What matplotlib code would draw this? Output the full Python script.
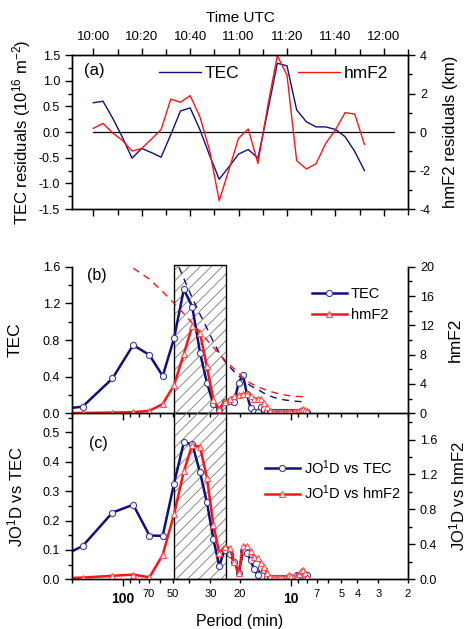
import matplotlib
matplotlib.use("Agg")
import matplotlib.pyplot as plt
from matplotlib.ticker import MultipleLocator, FuncFormatter

plt.rcParams["font.family"] = ["Liberation Sans", "DejaVu Sans"]
plt.rcParams["mathtext.fontset"] = "custom"
plt.rcParams["mathtext.rm"] = "Liberation Sans"
plt.rcParams["mathtext.it"] = "Liberation Sans:italic"
plt.rcParams["mathtext.bf"] = "Liberation Sans:bold"
plt.rcParams["hatch.linewidth"] = 0.7
plt.rcParams["axes.linewidth"] = 1.0

NAVY = "#10107a"
RED = "#ff1414"

# --- panel (a): residual time series (minutes after 10:00 UTC) ---
time_min = [0, 4, 8, 12, 16, 20, 24, 28, 32, 36, 40, 44, 48, 52, 56,
            60, 64, 68, 72, 76, 80, 84, 88, 92, 96, 100, 104, 108, 112]
tec_resid = [0.57, 0.60, 0.27, -0.10, -0.51, -0.32, -0.40, -0.49, -0.05, 0.41,
             0.47, 0.05, -0.45, -0.92, -0.68, -0.43, -0.34, -0.51, 0.40, 1.34,
             1.29, 0.43, 0.20, 0.10, 0.10, 0.05, -0.09, -0.38, -0.75]
hmf2_resid = [0.19, 0.45, -0.05, -0.43, -0.99, -0.85, -0.37, 0.13, 1.71, 1.55,
              1.89, 0.80, -0.93, -3.57, -1.97, -0.32, 0.16, -1.63, 1.31, 3.97,
              2.96, -1.49, -1.92, -1.65, -0.59, 0.11, 1.01, 0.93, -0.64]

# --- panels (b) and (c): spectra vs period (min) ---
periods = [346, 173, 115, 86.5, 69.2, 57.7, 49.4, 43.2, 38.5, 34.6, 31.5, 28.8,
           26.6, 24.7, 23.1, 21.6, 20.4, 19.2, 18.2, 17.3, 16.5, 15.7, 15.0,
           14.4, 13.8, 13.3, 12.8, 12.4, 11.9, 11.5, 11.2, 10.8, 10.5, 10.2,
           9.9, 9.6, 9.4, 9.1, 8.9, 8.7, 8.4, 8.2, 8.0]
tec_amp = [0.01, 0.073, 0.38, 0.745, 0.636, 0.407, 0.818, 1.353, 1.164, 0.662,
           0.335, 0.10, 0.04, 0.127, 0.138, 0.127, 0.335, 0.418, 0.21, 0.055,
           0.01, 0.01, 0.065, 0.045, 0.015, 0.01, 0.01, 0.01, 0.01, 0.01,
           0.01, 0.01, 0.01, 0.01, 0.01, 0.01, 0.01, 0.012, 0.015, 0.02,
           0.02, 0.015, 0.01]
hmf2_amp = [0.0, 0.05, 0.1, 0.15, 0.35, 1.27, 3.86, 8.1, 11.9, 10.9,
            6.4, 1.8, 0.55, 1.6, 1.9, 2.3, 2.5, 2.6, 2.6, 2.3,
            2.0, 2.0, 1.95, 1.45, 0.9, 0.25, 0.1, 0.08, 0.08, 0.1,
            0.1, 0.08, 0.1, 0.12, 0.1, 0.12, 0.15, 0.2, 0.3, 0.45,
            0.55, 0.5, 0.3]

sig_periods = [86.5, 69.2, 57.7, 49.4, 43.2, 38.5, 34.6, 31.5, 28.8, 26.6,
               24.7, 21.6, 19.2, 17.3, 15.7, 14.4, 13.3, 12.4, 11.5, 10.8,
               10.2, 9.6, 9.1, 8.7, 8.0]
hmf2_sig = [19.8, 18.3, 16.6, 15.0, 13.6, 12.3, 11.1, 10.0, 9.0, 8.1,
            7.3, 6.0, 4.9, 4.1, 3.6, 3.3, 3.0, 2.8, 2.6, 2.5,
            2.4, 2.35, 2.3, 2.28, 2.26]
tec_sig_periods = sig_periods[3:]
tec_sig = [1.72, 1.47, 1.26, 1.08, 0.93, 0.78, 0.66, 0.57, 0.45, 0.37,
           0.30, 0.26, 0.22, 0.19, 0.17, 0.155, 0.145, 0.14, 0.135, 0.13,
           0.128, 0.127]

coh_tec = [0.03, 0.113, 0.227, 0.254, 0.149, 0.148, 0.326, 0.466, 0.46, 0.364,
           0.262, 0.136, 0.045, 0.10, 0.085, 0.06, 0.02, 0.095, 0.09, 0.065,
           0.035, 0.013, 0.04, 0.03, 0.008, 0.005, 0.005, 0.005, 0.005, 0.005,
           0.005, 0.005, 0.005, 0.005, 0.005, 0.005, 0.008, 0.015, 0.015, 0.01,
           0.008, 0.012, 0.015]
coh_hmf2 = [0.0, 0.02, 0.04, 0.054, 0.023, 0.28, 0.746, 1.236, 1.54, 1.515,
            1.165, 0.625, 0.30, 0.375, 0.356, 0.2, 0.07, 0.38, 0.38, 0.32,
            0.26, 0.24, 0.19, 0.145, 0.07, 0.03, 0.015, 0.01, 0.01, 0.015,
            0.02, 0.02, 0.03, 0.05, 0.04, 0.03, 0.02, 0.03, 0.06, 0.09,
            0.11, 0.07, 0.03]

band = (24.2, 49.5)
major_periods = [100, 10]
minor_periods = [200, 90, 80, 70, 60, 50, 40, 30, 20, 9, 8, 7, 6, 5, 4, 3, 2]
minor_labels = ["", "", "", "70", "", "50", "", "30", "20", "", "", "7", "", "5", "4", "3", "2"]


def _period_axis(ax, labels):
    ax.set_xscale("log")
    ax.set_xlim(200, 2)
    ax.set_xticks(major_periods, labels=["100", "10"] if labels else ["", ""],
                  fontweight="bold", fontsize=10)
    ax.set_xticks(minor_periods, labels=minor_labels if labels else [""] * len(minor_labels),
                  minor=True, fontsize=8)
    ax.tick_params(axis="x", which="major", length=5, width=1, direction="out", pad=4)
    ax.tick_params(axis="x", which="minor", length=3, width=1, direction="out", pad=4)


def _yticks(ax, major, minor, fmt=None):
    ax.yaxis.set_major_locator(MultipleLocator(major))
    ax.yaxis.set_minor_locator(MultipleLocator(minor))
    if fmt:
        ax.yaxis.set_major_formatter(FuncFormatter(lambda v, _: fmt.format(v)))
    ax.tick_params(axis="y", which="major", length=5, width=1, labelsize=9)
    ax.tick_params(axis="y", which="minor", length=3, width=1)


fig = plt.figure(figsize=(4.71, 6.29), dpi=100)
left, width = 0.1529, 0.7134

# ---------------- (a) ----------------
ax_a = fig.add_axes([left, 0.6677, width, 0.2448])
ax_a2 = ax_a.twinx()
ax_a.axhline(0, xmin=(0 + 8.8) / 138.8, xmax=(124 + 8.8) / 138.8, color="black", lw=0.9)
l1, = ax_a.plot(time_min, tec_resid, color=NAVY, lw=1.0, label="TEC")
l2, = ax_a2.plot(time_min, hmf2_resid, color=RED, lw=1.0, label="hmF2")
ax_a.set_xlim(-8.8, 130)
ax_a.set_ylim(-1.5, 1.5)
ax_a2.set_ylim(-4, 4)
ax_a.xaxis.set_major_locator(MultipleLocator(20))
ax_a.xaxis.set_minor_locator(MultipleLocator(10))
ax_a.xaxis.set_major_formatter(FuncFormatter(lambda m, _: f"{10 + int(m) // 60}:{int(m) % 60:02d}"))
ax_a.tick_params(axis="x", which="both", top=True, bottom=True, labeltop=True,
                 labelbottom=False, labelsize=9.5, width=1)
ax_a.tick_params(axis="x", which="major", length=5)
ax_a.tick_params(axis="x", which="minor", length=4)
ax_a.xaxis.set_label_position("top")
ax_a.set_xlabel("Time UTC", fontsize=11, labelpad=7)
_yticks(ax_a, 0.5, 0.25, "{:.1f}")
_yticks(ax_a2, 2, 1, "{:.0f}")
ax_a.set_ylabel("TEC residuals (10$^{16}$ m$^{-2}$)", fontsize=12)
ax_a.yaxis.set_label_coords(-0.115, 0.5)
ax_a2.set_ylabel("hmF2 residuals (km)", fontsize=12)
ax_a2.yaxis.set_label_coords(1.104, 0.5)
ax_a.text(0.035, 0.9, "(a)", transform=ax_a.transAxes, fontsize=12, va="center")
ax_a.legend([l1, l2], ["TEC", "hmF2"], ncol=2, frameon=False, fontsize=12.5,
            loc="upper center", bbox_to_anchor=(0.6, 1.03), handlelength=2.4,
            handletextpad=0.2, columnspacing=3.4)

# ---------------- (b) ----------------
ax_b = fig.add_axes([left, 0.3429, width, 0.2331])
ax_b2 = ax_b.twinx()
ax_b.axvspan(*band, ymin=0, ymax=1.013, facecolor="none", edgecolor="#8a8a8a",
             hatch="///", lw=0, clip_on=False, zorder=0.5)
ax_b.axvspan(*band, ymin=0, ymax=1.013, facecolor="none", edgecolor="black",
             lw=1.0, clip_on=False, zorder=0.6)
ax_b.plot(tec_sig_periods, tec_sig, color=NAVY, lw=1.0, ls=(0, (5, 4)))
ax_b2.plot(sig_periods, hmf2_sig, color=RED, lw=1.0, ls=(0, (5, 4)))
h1, = ax_b.plot(periods, tec_amp, color=NAVY, lw=1.8, marker="o", ms=4.4,
                mfc="white", mec="#3c3ca0", mew=0.8, label="TEC")
h2, = ax_b2.plot(periods, hmf2_amp, color=RED, lw=1.8, marker="^", ms=4.4,
                 mfc="white", mec="#ff5050", mew=0.8, label="hmF2")
ax_b.set_ylim(0, 1.6)
ax_b2.set_ylim(0, 20)
_period_axis(ax_b, labels=False)
_yticks(ax_b, 0.4, 0.2, "{:.1f}")
_yticks(ax_b2, 4, 2, "{:.0f}")
for a in (ax_b, ax_b2):
    a.spines["top"].set_visible(False)
ax_b.set_ylabel("TEC", fontsize=12.5)
ax_b.yaxis.set_label_coords(-0.146, 0.5)
ax_b2.set_ylabel("hmF2", fontsize=12.5)
ax_b2.yaxis.set_label_coords(1.118, 0.5)
ax_b.text(0.045, 0.94, "(b)", transform=ax_b.transAxes, fontsize=11.5, va="center")
ax_b2.legend([h1, h2], ["TEC", "hmF2"], frameon=False, fontsize=10.5,
             loc="upper left", bbox_to_anchor=(0.675, 0.95), handlelength=2.4,
             handletextpad=0.25, labelspacing=0.45)

# ---------------- (c) ----------------
ax_c = fig.add_axes([left, 0.079, width, 0.2639])
ax_c.patch.set_visible(False)  # keep panel (b)'s bottom spine fully visible
ax_c2 = ax_c.twinx()
ax_c.axvspan(*band, facecolor="none", edgecolor="#8a8a8a", hatch="///", lw=0, zorder=0.5)
for p in band:
    ax_c.axvline(p, color="black", lw=1.0, zorder=0.6)
c1, = ax_c.plot(periods, coh_tec, color=NAVY, lw=1.8, marker="o", ms=4.4,
                mfc="white", mec="#3c3ca0", mew=0.8)
c2, = ax_c2.plot(periods, coh_hmf2, color=RED, lw=1.8, marker="^", ms=4.4,
                 mfc="white", mec="#ff5050", mew=0.8)
ax_c.set_ylim(0, 0.565)
ax_c2.set_ylim(0, 1.9)
_period_axis(ax_c, labels=True)
_yticks(ax_c, 0.1, 0.05, "{:.1f}")
_yticks(ax_c2, 0.4, 0.2, "{:.1f}")
for a in (ax_c, ax_c2):
    a.spines["top"].set_visible(False)
ax_c.set_yticks([0, 0.1, 0.2, 0.3, 0.4, 0.5])
ax_c.set_xlabel("Period (min)", fontsize=11.5, labelpad=6)
ax_c.set_ylabel("JO$^1$D vs TEC", fontsize=12)
ax_c.yaxis.set_label_coords(-0.14, 0.5)
ax_c2.set_ylabel("JO$^1$D vs hmF2", fontsize=12)
ax_c2.yaxis.set_label_coords(1.118, 0.5)
ax_c.text(0.05, 0.82, "(c)", transform=ax_c.transAxes, fontsize=11.5, va="center")
ax_c2.legend([c1, c2], ["JO$^1$D vs TEC", "JO$^1$D vs hmF2"], frameon=False,
             fontsize=10.5, loc="upper left", bbox_to_anchor=(0.535, 0.81),
             handlelength=2.4, handletextpad=0.25, labelspacing=0.45)

fig.savefig("out.png", dpi=100)
plt.close(fig)
